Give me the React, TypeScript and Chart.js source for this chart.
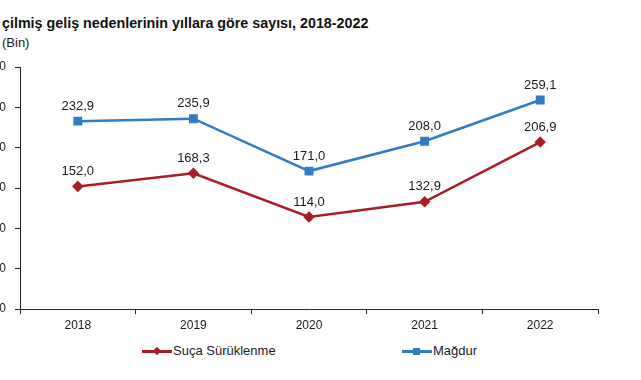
import React, { useEffect, useRef } from "react";
import { Chart, registerables } from "chart.js";

Chart.register(...registerables);

const TITLE = "çilmiş geliş nedenlerinin yıllara göre sayısı, 2018-2022";
const UNIT = "(Bin)";
const years = ["2018", "2019", "2020", "2021", "2022"];
const sucaSuruklenme = [152.0, 168.3, 114.0, 132.9, 206.9];
const magdur = [232.9, 235.9, 171.0, 208.0, 259.1];
const SERIES_NAMES = ["Suça Sürüklenme", "Mağdur"];
const RED = "#A81E26";
const BLUE = "#2F7DC2";
const FONT = "'Liberation Sans', Arial, sans-serif";

const fmt = (v: number) => v.toFixed(1).replace(".", ",");

const labelPlugin = {
  id: "valueLabels",
  afterDatasetsDraw(chart: any) {
    const ctx = chart.ctx;
    ctx.save();
    ctx.font = `13px ${FONT}`;
    ctx.fillStyle = "#1a1a1a";
    ctx.textAlign = "center";
    ctx.textBaseline = "middle";
    chart.data.datasets.forEach((ds: any, i: number) => {
      const meta = chart.getDatasetMeta(i);
      meta.data.forEach((pt: any, j: number) => {
        ctx.fillText(fmt(ds.data[j]), pt.x, pt.y - 15);
      });
    });
    ctx.restore();
  },
};

const Y_AXIS_W = 40;

export default function App() {
  const ref = useRef<HTMLCanvasElement | null>(null);
  useEffect(() => {
    if (!ref.current) return;
    const chart = new Chart(ref.current, {
      type: "line",
      data: {
        labels: years,
        datasets: [
          {
            label: SERIES_NAMES[0],
            data: sucaSuruklenme,
            borderColor: RED,
            backgroundColor: RED,
            borderWidth: 2.5,
            pointStyle: "rectRot",
            pointRadius: 4,
            pointHoverRadius: 4,
            tension: 0,
          },
          {
            label: SERIES_NAMES[1],
            data: magdur,
            borderColor: BLUE,
            backgroundColor: BLUE,
            borderWidth: 2.5,
            pointStyle: "rect",
            pointRadius: 4.5,
            pointHoverRadius: 4.5,
            tension: 0,
          },
        ],
      },
      options: {
        responsive: false,
        animation: false,
        events: [],
        layout: { padding: { top: 67, right: 43, left: 0, bottom: 0 } },
        plugins: {
          legend: { display: false },
          title: { display: false },
          tooltip: { enabled: false },
        },
        scales: {
          x: {
            type: "category",
            offset: true,
            afterFit: (s: any) => {
              s.height = 31;
            },
            grid: {
              offset: true,
              drawOnChartArea: false,
              drawTicks: true,
              tickLength: 5,
              color: "#222",
            },
            border: { display: true, color: "#222", width: 1 },
            ticks: {
              color: "#1a1a1a",
              font: { family: FONT, size: 12 },
              padding: 4,
              maxRotation: 0,
            },
          },
          y: {
            min: 0,
            max: 300,
            afterFit: (s: any) => {
              s.width = Y_AXIS_W;
            },
            grid: {
              drawOnChartArea: false,
              drawTicks: true,
              tickLength: 5,
              color: "#222",
            },
            border: { display: true, color: "#222", width: 1 },
            ticks: {
              stepSize: 50,
              color: "#1a1a1a",
              font: { family: FONT, size: 12 },
              padding: 9,
            },
          },
        },
      },
      plugins: [labelPlugin],
    });
    return () => chart.destroy();
  }, []);

  const legendItem = (left: number, color: string, shape: "diamond" | "square", text: string) => (
    <div style={{ position: "absolute", left, top: 343, height: 16, display: "flex", alignItems: "center" }}>
      <div style={{ position: "relative", width: 30, height: 16 }}>
        <div style={{ position: "absolute", left: 0, top: 7, width: 30, height: 2.5, background: color }} />
        <div
          style={{
            position: "absolute",
            left: shape === "diamond" ? 12 : 11,
            top: shape === "diamond" ? 5 : 4.5,
            width: shape === "diamond" ? 6 : 7,
            height: shape === "diamond" ? 6 : 7,
            background: color,
            transform: shape === "diamond" ? "rotate(45deg)" : "none",
          }}
        />
      </div>
      <span style={{ marginLeft: 1, font: `13px ${FONT}`, color: "#222", lineHeight: "16px" }}>{text}</span>
    </div>
  );

  return (
    <div style={{ position: "absolute", left: 0, top: 0, width: 641, height: 380, overflow: "hidden", background: "#fff" }}>
      <div style={{ position: "absolute", left: 2, top: 14, font: `bold 14.3px ${FONT}`, lineHeight: "19px", color: "#111", whiteSpace: "nowrap" }}>
        {TITLE}
      </div>
      <div style={{ position: "absolute", left: 2, top: 36, font: `13px ${FONT}`, lineHeight: "14px", color: "#222" }}>{UNIT}</div>
      <canvas
        ref={ref}
        width={661}
        height={340}
        style={{ position: "absolute", left: 20 - Y_AXIS_W, top: 0, width: 661, height: 340 }}
      />
      {legendItem(142, RED, "diamond", SERIES_NAMES[0])}
      {legendItem(402, BLUE, "square", SERIES_NAMES[1])}
    </div>
  );
}
